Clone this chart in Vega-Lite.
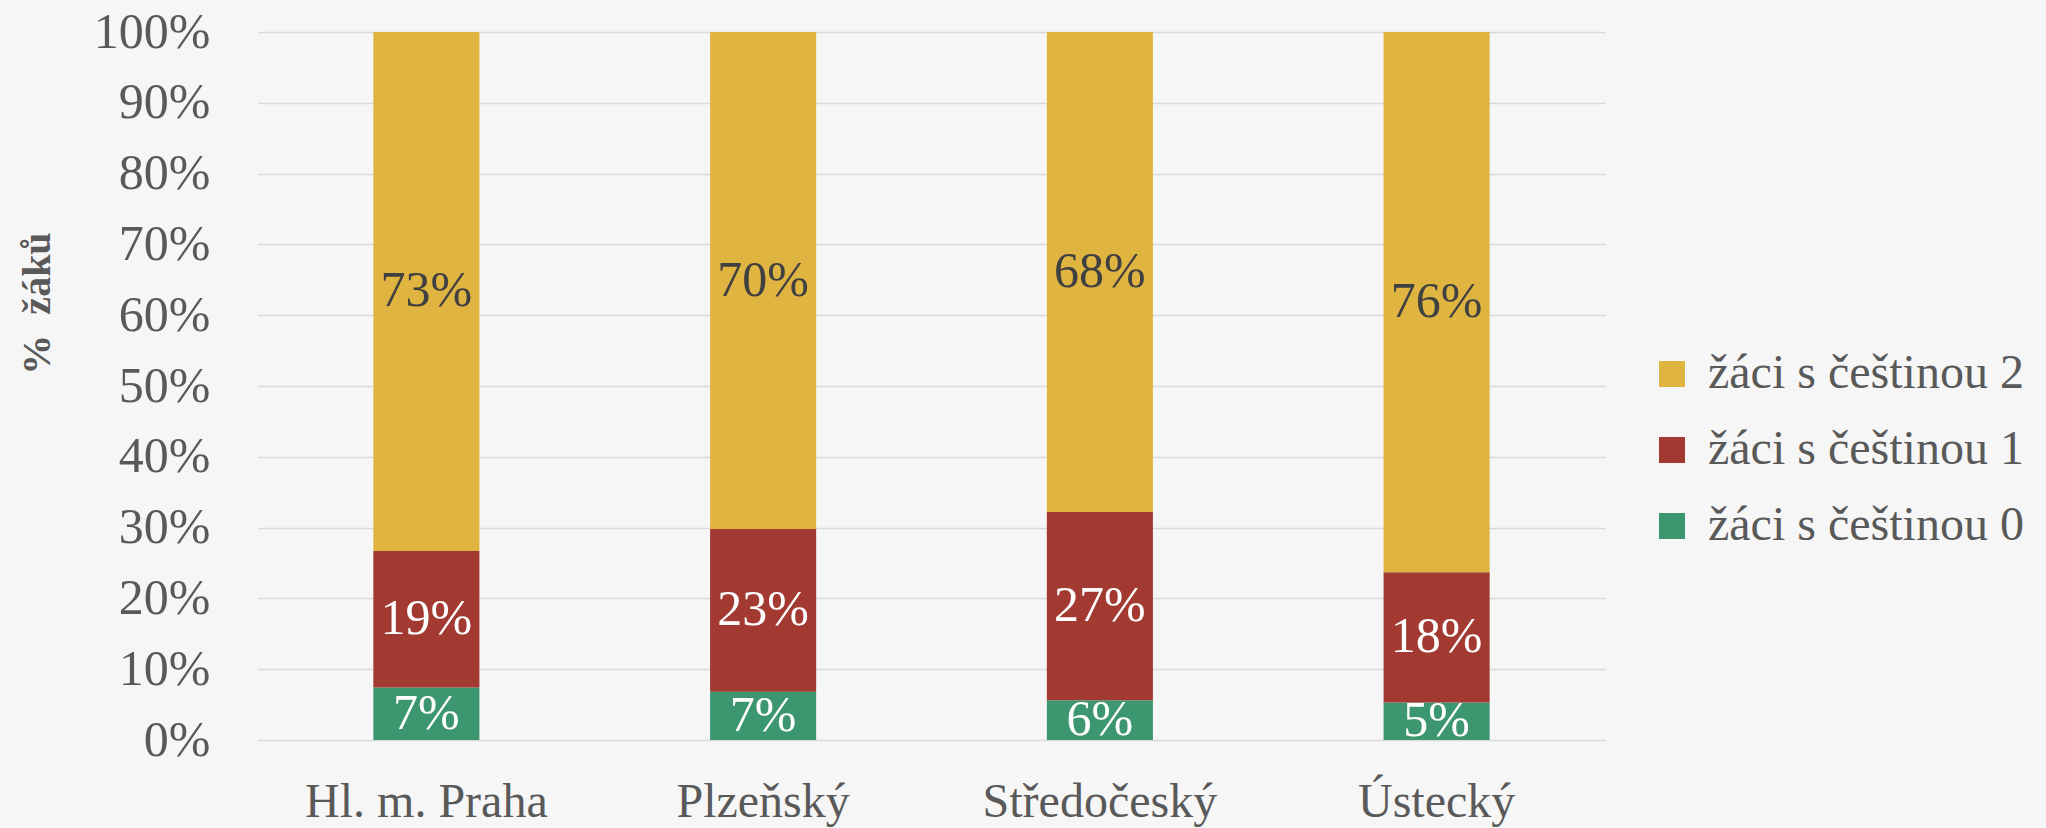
{
  "$schema": "https://vega.github.io/schema/vega-lite/v6.json",
  "autosize": "none",
  "width": 1347,
  "height": 708,
  "padding": {"left": 258, "top": 32, "right": 441, "bottom": 88},
  "background": "#F6F6F6",
  "config": {
    "view": {"stroke": null},
    "font": "Liberation Serif",
    "axis": {"labelFont": "Liberation Serif", "titleFont": "Liberation Serif"},
    "legend": {"labelFont": "Liberation Serif"}
  },
  "data": {
    "values": [
      {"kraj": "Hl. m. Praha", "skupina": "žáci s češtinou 0", "k": 0, "podil": 0.074},
      {"kraj": "Hl. m. Praha", "skupina": "žáci s češtinou 1", "k": 1, "podil": 0.193},
      {"kraj": "Hl. m. Praha", "skupina": "žáci s češtinou 2", "k": 2, "podil": 0.733},
      {"kraj": "Plzeňský", "skupina": "žáci s češtinou 0", "k": 0, "podil": 0.068},
      {"kraj": "Plzeňský", "skupina": "žáci s češtinou 1", "k": 1, "podil": 0.230},
      {"kraj": "Plzeňský", "skupina": "žáci s češtinou 2", "k": 2, "podil": 0.702},
      {"kraj": "Středočeský", "skupina": "žáci s češtinou 0", "k": 0, "podil": 0.056},
      {"kraj": "Středočeský", "skupina": "žáci s češtinou 1", "k": 1, "podil": 0.266},
      {"kraj": "Středočeský", "skupina": "žáci s češtinou 2", "k": 2, "podil": 0.678},
      {"kraj": "Ústecký", "skupina": "žáci s češtinou 0", "k": 0, "podil": 0.053},
      {"kraj": "Ústecký", "skupina": "žáci s češtinou 1", "k": 1, "podil": 0.184},
      {"kraj": "Ústecký", "skupina": "žáci s češtinou 2", "k": 2, "podil": 0.763}
    ]
  },
  "encoding": {
    "x": {
      "field": "kraj", "type": "nominal", "sort": null,
      "scale": {"paddingInner": 0.685, "paddingOuter": 0.3425},
      "axis": {
        "title": null, "labelAngle": 0, "labelFontSize": 48, "labelColor": "#595959",
        "labelPadding": 38, "labelLimit": 0, "ticks": false, "domain": false, "grid": false
      }
    },
    "y": {
      "field": "podil", "type": "quantitative", "stack": "zero",
      "scale": {"domain": [0, 1], "nice": false},
      "axis": {
        "title": "%\u00a0\u00a0žáků", "format": ".0%", "values": [0, 0.1, 0.2, 0.3, 0.4, 0.5, 0.6, 0.7, 0.8, 0.9, 1],
        "labelFontSize": 50, "labelColor": "#595959", "labelPadding": 48,
        "ticks": false, "domain": false,
        "gridColor": "#D9D9D9", "gridWidth": 1.5,
        "titleFontSize": 40, "titleFontWeight": "bold", "titleColor": "#595959",
        "titleAngle": -90, "titleX": -221, "titleY": 271, "titleAlign": "center", "titleBaseline": "middle"
      }
    },
    "order": {"field": "k", "type": "quantitative"}
  },
  "layer": [
    {
      "mark": {"type": "bar"},
      "encoding": {
        "color": {
          "field": "skupina", "type": "nominal",
          "scale": {
            "domain": ["žáci s češtinou 2", "žáci s češtinou 1", "žáci s češtinou 0"],
            "range": ["#E0B440", "#A23A32", "#3C9670"]
          },
          "legend": {
            "title": null, "orient": "none", "legendX": 1390, "legendY": 318,
            "symbolType": "square", "symbolSize": 676, "symbolStrokeWidth": 0,
            "labelFontSize": 48, "labelColor": "#595959", "labelOffset": 12, "labelLimit": 0,
            "rowPadding": 28, "padding": 0
          }
        }
      }
    },
    {
      "mark": {"type": "text", "fontSize": 50, "baseline": "middle"},
      "encoding": {
        "y": {"field": "podil", "type": "quantitative", "stack": "zero", "bandPosition": 0.5},
        "text": {"field": "podil", "type": "quantitative", "format": ".0%"},
        "color": {
          "condition": {"test": "datum.k == 2", "value": "#404040"},
          "value": "#FFFFFF"
        }
      }
    }
  ]
}
